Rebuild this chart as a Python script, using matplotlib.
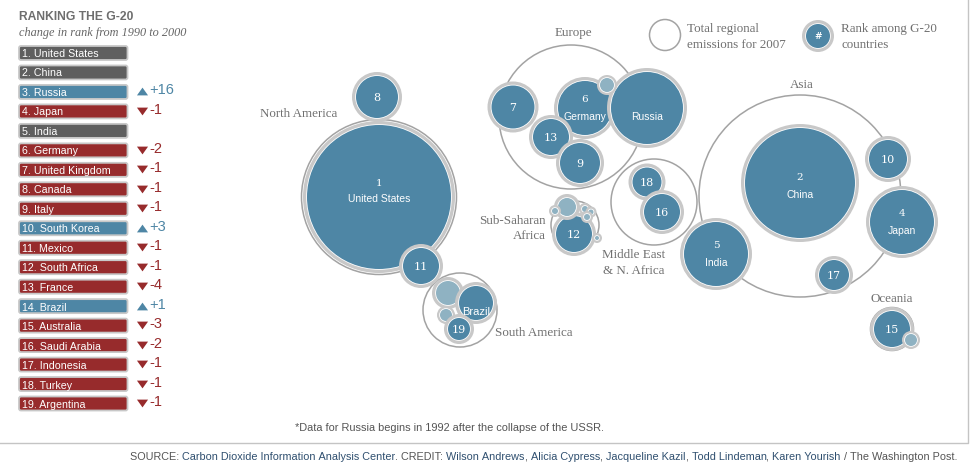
import numpy as np
import matplotlib
matplotlib.use("Agg")
import matplotlib.pyplot as plt
from matplotlib.patches import Circle, FancyBboxPatch

# ranking list
countries = ["United States", "China", "Russia", "Japan", "India", "Germany",
             "United Kingdom", "Canada", "Italy", "South Korea", "Mexico",
             "South Africa", "France", "Brazil", "Australia", "Saudi Arabia",
             "Indonesia", "Turkey", "Argentina"]
changes = [0, 0, 16, -1, 0, -2, -1, -1, -1, 3, -1, -1, -4, 1, -3, -2, -1, -1, -1]

region_x = [379, 571, 654, 575, 460, 800, 892]
region_y = [197, 117, 202, 225, 310, 196, 329]
region_r = [77.5, 72, 43, 24, 37, 101, 21.5]

# countries: rank 0 means not in the G-20 (pale bubble)
bubble_x = [379, 377, 421, 513, 585, 647, 551, 580, 607, 647, 662, 574, 567, 555,
            585, 591, 587, 597, 448, 476, 446, 459, 800, 888, 902, 716, 834, 892, 911]
bubble_y = [197, 97, 266, 107, 108, 108, 137, 163, 85, 182, 212, 234, 207, 211,
            209, 212, 217, 238, 293, 303, 315, 329, 183, 159, 222, 254, 275, 329, 340]
bubble_r = [72, 21, 18, 21.5, 27, 36, 18, 20, 7, 14.5, 18, 18, 9, 3,
            3, 2.5, 3, 2, 12, 17, 6, 11, 55, 19, 32, 32, 15, 18, 6]
bubble_rank = [1, 8, 11, 7, 6, 3, 13, 9, 0, 18, 16, 12, 0, 0,
               0, 0, 0, 0, 0, 14, 0, 19, 2, 10, 4, 5, 17, 15, 0]
named = {1: "United States", 6: "Germany", 3: "Russia", 14: "Brazil",
         2: "China", 4: "Japan", 5: "India"}
hidden_rank = [3, 14]

BLUE = "#4e86a5"
PALE = "#8fb2c2"
RED = "#972b2c"
DARK = "#5f5f5f"
RING = "#c8c8c8"
LINE = "#a3a3a3"
LABEL = "#707070"
SERIF = "Liberation Serif"
SANS = "Liberation Sans"
NUMS = "DejaVu Serif"
UP = [(-1, 0.7), (1, 0.7), (0, -0.7)]
DOWN = [(-1, -0.7), (1, -0.7), (0, 0.7)]

fig = plt.figure(figsize=(9.72, 4.76), dpi=100)
ax = fig.add_axes([0, 0, 1, 1])
ax.set_xlim(0, 972)
ax.set_ylim(476, 0)
ax.axis("off")

# frame
ax.plot([0, 968, 968], [443, 443, 0], color="#c4c4c4", lw=1)

# left list
ax.text(19, 17.5, "RANKING THE G-20", family=SANS, weight="bold", fontsize=8.7,
        color="#6e6e6e", va="center")
ax.text(19, 33, "change in rank from 1990 to 2000", family=SERIF, style="italic",
        fontsize=8.8, color="#666666", va="center")

rows = np.linspace(53, 403.5, len(countries))
for i, (name, ch) in enumerate(zip(countries, changes)):
    y = rows[i]
    col = DARK if ch == 0 else (BLUE if ch > 0 else RED)
    ax.add_patch(FancyBboxPatch((19, y - 7), 108.5, 14,
                                boxstyle="round,pad=0,rounding_size=2",
                                fc=col, ec=RING, lw=1.3))
    ax.text(22, y + 0.6 + i * 0.06, f"{i + 1}. {name}", family=SANS, fontsize=7.7,
            color="white", va="center")
    if ch != 0:
        # y axis is flipped here, so the marker is flipped too
        ax.scatter([141.5], [y - 0.5], marker=DOWN if ch > 0 else UP, s=64, color=col, lw=0)
        ax.text(149, y - 1.5, f"{ch:+d}", family=SANS, fontsize=10.5, color=col, va="center")

# regions under the bubbles
for x, y, r in zip(region_x, region_y, region_r):
    ax.add_patch(Circle((x, y), r, fc="white", ec=LINE, lw=1.1))


def bubble(x, y, r, col):
    ring = 3 if r < 8 else 4
    ax.add_patch(Circle((x, y), r + ring, fc=RING, ec="none"))
    ax.add_patch(Circle((x, y), r + 0.8, fc="white", ec="none"))
    ax.add_patch(Circle((x, y), r, fc=col, ec="none"))


for x, y, r, rank in zip(bubble_x, bubble_y, bubble_r, bubble_rank):
    bubble(x, y, r, BLUE if rank else PALE)

for x, y, r, rank in zip(bubble_x, bubble_y, bubble_r, bubble_rank):
    if not rank:
        continue
    if rank in named:
        name_y = y + 9
        num_y = y - 8
        if rank == 1:
            name_y, num_y = y + 2, y - 13
        if rank == 2:
            name_y, num_y = y + 12, y - 5
        ax.text(x, name_y, named[rank], family=SANS, fontsize=7.5 if rank != 14 else 8,
                color="white", ha="center", va="center")
        if rank in hidden_rank:
            continue
        ax.text(x, num_y, str(rank), family=NUMS, fontsize=7.5,
                color="white", ha="center", va="center")
    else:
        ax.text(x, y + 1, str(rank), family=NUMS, fontsize=8,
                color="white", ha="center", va="center")


# region names
def region_label(x, y, s, ha="center"):
    ax.text(x, y, s, family=SERIF, fontsize=9.4, color=LABEL, ha=ha, va="center",
            linespacing=1.4)


region_label(299, 114, "North America")
region_label(573, 33, "Europe")
region_label(802, 85, "Asia")
region_label(546, 228.5, "Sub-Saharan\nAfrica", ha="right")
region_label(634, 263, "Middle East\n& N. Africa")
region_label(495, 333, "South America", ha="left")
region_label(892, 299, "Oceania")

# legend
ax.add_patch(Circle((665, 35), 15.5, fc="white", ec=LINE, lw=1.1))
region_label(687, 37, "Total regional\nemissions for 2007", ha="left")
bubble(818, 36, 12, BLUE)
ax.text(818, 36.5, "#", family=NUMS, weight="bold", fontsize=6.5, color="white",
        ha="center", va="center")
region_label(841, 37, "Rank among G-20\ncountries", ha="left")

# footnotes
ax.text(449, 428, "*Data for Russia begins in 1992 after the collapse of the USSR.",
        family=SANS, fontsize=7.9, color="#555555", ha="center", va="center")

source_parts = [("SOURCE: ", "#555555"), ("Carbon Dioxide Information Analysis Center", "#2f4f6f"),
                (". CREDIT: ", "#555555"), ("Wilson Andrews", "#2f4f6f"), (", ", "#555555"),
                ("Alicia Cypress", "#2f4f6f"), (", ", "#555555"), ("Jacqueline Kazil", "#2f4f6f"),
                (", ", "#555555"), ("Todd Lindeman", "#2f4f6f"), (", ", "#555555"),
                ("Karen Yourish", "#2f4f6f"), (" / The Washington Post.", "#555555")]
renderer = fig.canvas.get_renderer()
cur = 130.0
for s, c in source_parts:
    t = ax.text(cur, 457, s.replace(" ", "\u00a0"), family=SANS, fontsize=7.85, color=c, va="center")
    cur = ax.transData.inverted().transform(t.get_window_extent(renderer).get_points())[1, 0]

fig.savefig("out.png", dpi=100)
